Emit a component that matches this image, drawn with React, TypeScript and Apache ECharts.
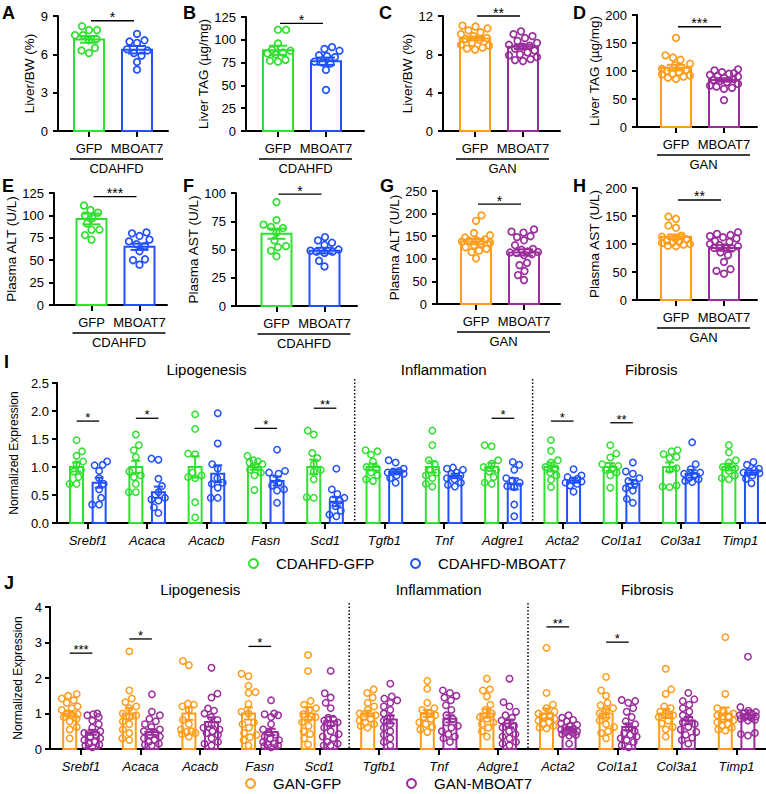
import React, { useEffect, useRef } from "react";
import * as echarts from "echarts";

const FONT = "'Liberation Sans', Arial, Helvetica, sans-serif";
const GREEN = "#2fe02f";
const BLUE = "#2050ff";
const ORANGE = "#ff9c1a";
const PURPLE = "#9a2c9c";

const groupLabels = ["GFP", "MBOAT7"];

// ---- Panel A: Liver/BW (%) CDAHFD
const aGfp = [8.2, 7.9, 7.9, 7.5, 7.5, 7.2, 7.1, 6.5, 6.3, 6.1];
const aMboat7 = [7.6, 7.1, 7.0, 6.9, 6.4, 6.3, 6.1, 5.9, 5.4, 4.8];
const aMean = [7.17, 6.36];
const aSem = [0.26, 0.29];
// ---- Panel B: Liver TAG CDAHFD
const bGfp = [111, 111, 96, 89, 88, 86, 85, 84, 78, 76, 77];
const bMboat7 = [92, 90, 88, 83, 82, 81, 76, 75, 74, 67, 45];
const bMean = [88.5, 76.5];
const bSem = [5, 4];
// ---- Panel C: Liver/BW (%) GAN
const cGfp = [11.0, 10.9, 10.7, 10.5, 10.3, 10.1, 9.9, 9.7, 9.6, 9.5, 9.2, 9.0, 8.9, 8.7, 8.6, 8.5];
const cMboat7 = [10.4, 10.1, 9.9, 9.7, 9.4, 9.2, 9.0, 8.9, 8.8, 8.6, 8.4, 8.2, 8.0, 7.9, 7.7, 7.5, 7.3, 7.4];
const cMean = [9.66, 8.78];
const cSem = [0.2, 0.22];
// ---- Panel D: Liver TAG GAN
const dGfp = [159, 128, 124, 120, 113, 110, 104, 102, 100, 98, 95, 94, 92, 90, 88, 86];
const dMboat7 = [103, 101, 98, 96, 95, 93, 91, 90, 88, 86, 84, 82, 80, 77, 74, 72, 70, 68, 48];
const dMean = [106, 84];
const dSem = [5, 3];
// ---- Panel E: Plasma ALT CDAHFD
const eGfp = [111, 106, 103, 100, 97, 91, 84, 84, 78, 73];
const eMboat7 = [81, 80, 77, 73, 71, 68, 66, 60, 51, 50, 45];
const eMean = [96, 65];
const eSem = [6, 3.5];
// ---- Panel F: Plasma AST CDAHFD
const fGfp = [92, 76, 72, 70, 69, 65, 58, 53, 52, 49, 44];
const fMboat7 = [61, 58, 56, 54, 50, 49, 48, 48, 47, 40, 35];
const fMean = [64, 49];
const fSem = [4.5, 2.5];
// ---- Panel G: Plasma ALT GAN
const gGfp = [196, 184, 157, 152, 147, 143, 141, 140, 138, 136, 133, 130, 126, 122, 118, 115, 101];
const gMboat7 = [165, 160, 158, 150, 148, 141, 130, 122, 120, 116, 115, 114, 113, 110, 108, 91, 86, 73, 64, 53];
const gMean = [138, 114];
const gSem = [6, 7];
// ---- Panel H: Plasma AST GAN
const hGfp = [149, 145, 133, 129, 115, 113, 110, 108, 106, 104, 103, 102, 100, 99, 97, 96];
const hMboat7 = [121, 118, 116, 114, 112, 110, 105, 104, 100, 98, 96, 94, 93, 92, 85, 80, 68, 55, 52, 47];
const hMean = [113, 93];
const hSem = [4, 5];

// ---- Panels I and J: gene expression
const genes = ["Srebf1", "Acaca", "Acacb", "Fasn", "Scd1", "Tgfb1", "Tnf", "Adgre1", "Acta2", "Col1a1", "Col3a1", "Timp1"];
const geneGroups = ["Lipogenesis", "Inflammation", "Fibrosis"];
const geneGroupCenters = [2, 6, 9.5];
const geneGroupSeparators = [4.5, 7.5];

const iGfpMean = [1, 1, 1, 1, 1, 1, 1, 1, 1, 1, 1, 1];
const iGfpSem = [0.08, 0.11, 0.19, 0.05, 0.13, 0.06, 0.1, 0.07, 0.08, 0.07, 0.08, 0.06];
const iMboat7Mean = [0.72, 0.55, 0.88, 0.75, 0.38, 0.91, 0.84, 0.7, 0.76, 0.7, 0.88, 0.9];
const iMboat7Sem = [0.09, 0.1, 0.15, 0.08, 0.08, 0.04, 0.04, 0.1, 0.04, 0.07, 0.07, 0.04];
const iGfpDots = [
  [1.48, 1.28, 1.2, 1.1, 1.05, 0.95, 0.92, 0.82, 0.7, 0.7],
  [1.58, 1.39, 1.3, 1.18, 0.92, 0.85, 0.82, 0.7, 0.55, 0.55],
  [1.94, 1.68, 1.24, 1.23, 0.9, 0.85, 0.82, 0.8, 0.37, 0.1],
  [1.2, 1.12, 1.1, 1.08, 1.05, 1.02, 0.95, 0.9, 0.85, 0.59],
  [1.65, 1.58, 1.25, 1.16, 1.05, 0.95, 0.92, 0.78, 0.46, 0.45],
  [1.3, 1.28, 1.22, 1.1, 1.0, 0.98, 0.9, 0.85, 0.78, 0.75],
  [1.65, 1.39, 1.12, 1.05, 0.95, 0.9, 0.85, 0.8, 0.7, 0.65],
  [1.39, 1.37, 1.12, 1.06, 1.0, 0.95, 0.92, 0.82, 0.72, 0.7],
  [1.48, 1.29, 1.12, 1.08, 1.0, 0.98, 0.9, 0.85, 0.77, 0.64],
  [1.39, 1.24, 1.17, 1.05, 1.02, 0.98, 0.95, 0.9, 0.85, 0.63],
  [1.3, 1.28, 1.23, 1.18, 1.16, 0.98, 0.95, 0.67, 0.65, 0.64],
  [1.39, 1.26, 1.12, 1.08, 1.0, 0.98, 0.93, 0.85, 0.8, 0.78],
];
const iMboat7Dots = [
  [1.1, 1.04, 1.03, 0.93, 0.8, 0.7, 0.6, 0.45, 0.33, 0.33],
  [1.15, 1.13, 0.79, 0.66, 0.55, 0.45, 0.42, 0.4, 0.28, 0.18],
  [1.96, 1.42, 1.05, 0.97, 0.8, 0.72, 0.7, 0.63, 0.45, 0.45],
  [1.31, 0.93, 0.9, 0.88, 0.8, 0.72, 0.67, 0.6, 0.58, 0.36],
  [0.97, 0.6, 0.52, 0.45, 0.42, 0.4, 0.3, 0.22, 0.15, 0.12],
  [1.12, 1.08, 0.97, 0.93, 0.92, 0.9, 0.88, 0.85, 0.8, 0.72],
  [0.99, 0.97, 0.95, 0.9, 0.88, 0.85, 0.8, 0.78, 0.72, 0.68, 0.65],
  [1.09, 1.04, 0.95, 0.8, 0.76, 0.72, 0.66, 0.64, 0.33, 0.12],
  [0.96, 0.85, 0.82, 0.79, 0.76, 0.74, 0.72, 0.7, 0.67, 0.56],
  [1.08, 0.92, 0.88, 0.8, 0.75, 0.7, 0.62, 0.58, 0.43, 0.36],
  [1.44, 1.05, 0.96, 0.9, 0.88, 0.85, 0.8, 0.78, 0.75, 0.73],
  [1.09, 1.04, 0.97, 0.95, 0.92, 0.9, 0.89, 0.85, 0.79, 0.71],
];
const iSigGene = [0, 1, 3, 4, 7, 8, 9];
const iSigY = [1.82, 1.87, 1.69, 2.05, 1.87, 1.82, 1.79];
const iSigStars = ["*", "*", "*", "**", "*", "*", "**"];

const jGfpMean = [1, 1, 1, 1, 1, 1, 1, 1, 1, 1, 1, 1];
const jGfpSem = [0.07, 0.16, 0.18, 0.17, 0.18, 0.08, 0.1, 0.12, 0.14, 0.12, 0.13, 0.17];
const jMboat7Mean = [0.47, 0.48, 0.76, 0.48, 0.78, 0.83, 0.85, 0.72, 0.57, 0.62, 0.8, 0.97];
const jMboat7Sem = [0.07, 0.08, 0.13, 0.09, 0.13, 0.11, 0.1, 0.11, 0.05, 0.1, 0.1, 0.12];
const jGfpDots = [
  [1.55, 1.5, 1.42, 1.37, 1.3, 1.2, 1.15, 1.1, 1.0, 0.98, 0.95, 0.9, 0.85, 0.78, 0.62, 0.55, 0.3],
  [2.75, 1.65, 1.42, 1.32, 1.2, 1.15, 1.0, 0.95, 0.9, 0.78, 0.7, 0.55, 0.45, 0.3, 0.25],
  [2.48, 2.36, 1.28, 1.25, 1.2, 1.1, 0.82, 0.7, 0.55, 0.5, 0.48, 0.45, 0.42, 0.35],
  [2.12, 2.05, 1.78, 1.6, 1.58, 1.27, 1.05, 1.0, 0.75, 0.7, 0.6, 0.45, 0.4, 0.33, 0.25, 0.1],
  [2.65, 2.2, 1.35, 1.25, 1.15, 1.1, 0.98, 0.9, 0.85, 0.75, 0.65, 0.5, 0.42, 0.3, 0.13],
  [1.68, 1.58, 1.45, 1.3, 1.2, 1.1, 1.0, 0.95, 0.9, 0.85, 0.8, 0.75, 0.7, 0.65, 0.6],
  [1.92, 1.7, 1.3, 1.15, 1.1, 1.02, 0.95, 0.9, 0.85, 0.75, 0.7, 0.62, 0.55, 0.48],
  [1.98, 1.68, 1.65, 1.48, 1.25, 1.1, 1.0, 0.9, 0.85, 0.75, 0.7, 0.6, 0.5, 0.35],
  [2.85, 1.58, 1.25, 1.15, 1.05, 1.0, 0.95, 0.9, 0.85, 0.8, 0.75, 0.7, 0.65, 0.6, 0.58],
  [2.03, 1.65, 1.5, 1.3, 1.23, 1.15, 1.1, 1.0, 0.9, 0.8, 0.7, 0.62, 0.5, 0.45, 0.3],
  [2.26, 1.68, 1.55, 1.2, 1.15, 1.05, 1.0, 0.95, 0.9, 0.8, 0.72, 0.62, 0.55, 0.35],
  [3.15, 1.55, 1.15, 1.05, 1.0, 0.95, 0.9, 0.85, 0.8, 0.75, 0.7, 0.65, 0.6, 0.55, 0.52],
];
const jMboat7Dots = [
  [1.0, 0.98, 0.95, 0.9, 0.8, 0.7, 0.6, 0.5, 0.45, 0.4, 0.35, 0.3, 0.25, 0.2, 0.15, 0.12, 0.1, 0.05],
  [1.54, 1.05, 0.95, 0.85, 0.78, 0.7, 0.62, 0.55, 0.5, 0.45, 0.4, 0.35, 0.3, 0.25, 0.2, 0.15, 0.12, 0.1],
  [2.29, 1.56, 1.45, 1.14, 1.08, 1.0, 0.9, 0.82, 0.7, 0.6, 0.55, 0.5, 0.45, 0.4, 0.3, 0.2, 0.15, 0.1],
  [1.37, 1.0, 0.98, 0.95, 0.9, 0.7, 0.55, 0.45, 0.4, 0.35, 0.3, 0.25, 0.2, 0.15, 0.12, 0.1, 0.08, 0.05],
  [2.2, 1.57, 1.45, 1.3, 1.15, 0.88, 0.85, 0.8, 0.75, 0.7, 0.6, 0.5, 0.42, 0.35, 0.3, 0.2, 0.15, 0.1, 0.1],
  [1.84, 1.48, 1.42, 1.37, 1.3, 1.2, 1.1, 1.0, 0.9, 0.8, 0.7, 0.6, 0.5, 0.4, 0.3, 0.2, 0.1],
  [1.65, 1.58, 1.5, 1.45, 1.37, 1.23, 1.1, 0.95, 0.85, 0.75, 0.65, 0.6, 0.5, 0.42, 0.35, 0.3, 0.2],
  [1.98, 1.32, 1.2, 1.05, 0.95, 0.88, 0.8, 0.72, 0.65, 0.6, 0.5, 0.42, 0.35, 0.3, 0.2, 0.15, 0.1],
  [0.95, 0.88, 0.82, 0.78, 0.72, 0.68, 0.65, 0.6, 0.57, 0.55, 0.52, 0.5, 0.48, 0.45, 0.42, 0.4, 0.38, 0.15],
  [1.38, 1.35, 1.3, 1.15, 1.05, 0.9, 0.78, 0.7, 0.6, 0.5, 0.45, 0.4, 0.35, 0.3, 0.25, 0.2, 0.1, 0.05],
  [1.58, 1.4, 1.35, 1.25, 1.15, 1.05, 0.95, 0.85, 0.75, 0.7, 0.62, 0.55, 0.48, 0.4, 0.32, 0.25, 0.15],
  [2.6, 1.18, 1.08, 1.04, 1.0, 0.98, 0.95, 0.93, 0.92, 0.9, 0.88, 0.85, 0.82, 0.8, 0.45, 0.42, 0.38],
];
const jSigGene = [0, 1, 3, 8, 9];
const jSigY = [2.7, 3.1, 2.89, 3.44, 3.01];
const jSigStars = ["***", "*", "*", "**", "*"];

// ---- panel definitions (built from the arrays above)
const smallPanels = [
  { letter: "A", diet: "CDAHFD", yName: "Liver/BW (%)", yMax: 9, yStep: 3, dots: [aGfp, aMboat7], mean: aMean, sem: aSem, stars: "*", sigY: 8.63, colors: [GREEN, BLUE] },
  { letter: "B", diet: "CDAHFD", yName: "Liver TAG (µg/mg)", yMax: 125, yStep: 25, dots: [bGfp, bMboat7], mean: bMean, sem: bSem, stars: "*", sigY: 118, colors: [GREEN, BLUE] },
  { letter: "C", diet: "GAN", yName: "Liver/BW (%)", yMax: 12, yStep: 4, dots: [cGfp, cMboat7], mean: cMean, sem: cSem, stars: "**", sigY: 12, colors: [ORANGE, PURPLE] },
  { letter: "D", diet: "GAN", yName: "Liver TAG (µg/mg)", yMax: 200, yStep: 50, dots: [dGfp, dMboat7], mean: dMean, sem: dSem, stars: "***", sigY: 179, colors: [ORANGE, PURPLE] },
  { letter: "E", diet: "CDAHFD", yName: "Plasma ALT (U/L)", yMax: 125, yStep: 25, dots: [eGfp, eMboat7], mean: eMean, sem: eSem, stars: "***", sigY: 121, colors: [GREEN, BLUE] },
  { letter: "F", diet: "CDAHFD", yName: "Plasma AST (U/L)", yMax: 100, yStep: 25, dots: [fGfp, fMboat7], mean: fMean, sem: fSem, stars: "*", sigY: 99, colors: [GREEN, BLUE] },
  { letter: "G", diet: "GAN", yName: "Plasma ALT (U/L)", yMax: 250, yStep: 50, dots: [gGfp, gMboat7], mean: gMean, sem: gSem, stars: "*", sigY: 221, colors: [ORANGE, PURPLE] },
  { letter: "H", diet: "GAN", yName: "Plasma AST (U/L)", yMax: 200, yStep: 50, dots: [hGfp, hMboat7], mean: hMean, sem: hSem, stars: "**", sigY: 178.6, colors: [ORANGE, PURPLE] },
];

const smallLayout = [
  { axisX: 58, c0: 89, endX: 168, top: 16, zero: 131, nameGap: 22, lx: 2, ly: 4 },
  { axisX: 246, c0: 278, endX: 364, top: 17, zero: 131, nameGap: 35, lx: 183, ly: 4 },
  { axisX: 443, c0: 475, endX: 560, top: 16, zero: 131, nameGap: 28, lx: 379, ly: 4 },
  { axisX: 637, c0: 676, endX: 757, top: 15, zero: 127, nameGap: 31, lx: 573, ly: 4 },
  { axisX: 54, c0: 91.5, endX: 167, top: 193, zero: 305, nameGap: 32, lx: 2, ly: 177 },
  { axisX: 236, c0: 276.5, endX: 357, top: 193, zero: 306, nameGap: 30, lx: 183, ly: 177 },
  { axisX: 437, c0: 476, endX: 560, top: 191, zero: 304, nameGap: 31, lx: 380, ly: 177 },
  { axisX: 637, c0: 676, endX: 757, top: 188, zero: 300, nameGap: 32, lx: 573, ly: 177 },
];

const bigPanels = [
  { letter: "I", yMax: 2.5, yStep: 0.5, decimals: 1, names: ["CDAHFD-GFP", "CDAHFD-MBOAT7"], colors: [GREEN, BLUE], means: [iGfpMean, iMboat7Mean], sems: [iGfpSem, iMboat7Sem], dots: [iGfpDots, iMboat7Dots], sigGene: iSigGene, sigY: iSigY, sigStars: iSigStars },
  { letter: "J", yMax: 4, yStep: 1, decimals: 0, names: ["GAN-GFP", "GAN-MBOAT7"], colors: [ORANGE, PURPLE], means: [jGfpMean, jMboat7Mean], sems: [jGfpSem, jMboat7Sem], dots: [jGfpDots, jMboat7Dots], sigGene: jSigGene, sigY: jSigY, sigStars: jSigStars },
];

const bigLayout = [
  { axisX: 54, c0: 85, sp: 59.55, endX: 766, top: 383, zero: 523, nameGap: 30, titleDy: -14, legendTop: 556, legendLeft: [248, 410], lx: 4, ly: 353 },
  { axisX: 50, c0: 81, sp: 59.6, endX: 766, top: 607, zero: 749, nameGap: 16, titleDy: -18, legendTop: 776, legendLeft: [245, 406], lx: 4, ly: 574 },
];

// ---- helpers
function swarm(ys: number[], d: number, maxOff: number): number[] {
  const idx = ys.map((_, i) => i).sort((a, b) => ys[b] - ys[a]);
  const placed: Array<[number, number]> = [];
  const offs = ys.map(() => 0);
  idx.forEach((i, n) => {
    const sign = n % 2 === 0 ? 1 : -1;
    let best = 0;
    let bestScore = -1;
    let done = false;
    for (let k = 0; k <= maxOff && !done; k += 0.5) {
      const cands = k === 0 ? [0] : [sign * k, -sign * k];
      for (const s of cands) {
        let minD = Infinity;
        for (const [px, py] of placed) {
          const dd = Math.hypot(px - s, py - ys[i]);
          if (dd < minD) minD = dd;
        }
        if (minD >= d) {
          best = s;
          done = true;
          break;
        }
        if (minD > bestScore) {
          bestScore = minD;
          best = s;
        }
      }
    }
    offs[i] = best;
    placed.push([best, ys[i]]);
  });
  return offs;
}

type BarStyle = { bw: number; lw: number; cap: number; r: number; dlw: number; d: number; maxOff: number };

function barRenderer(dotSets: number[][], colorOf: (i: number) => string, shiftPx: number, st: BarStyle) {
  return (params: any, api: any) => {
    const i = params.dataIndex;
    const xv = api.value(0);
    const mean = api.value(1);
    const sem = api.value(2);
    const color = colorOf(i);
    const base = api.coord([xv, 0]);
    const cx = base[0] + shiftPx;
    const y0 = base[1];
    const yTop = api.coord([xv, mean])[1];
    const yHi = api.coord([xv, mean + sem])[1];
    const yLo = api.coord([xv, Math.max(0, mean - sem)])[1];
    const ls = { stroke: color, lineWidth: st.lw };
    const children: any[] = [
      { type: "rect", shape: { x: cx - st.bw / 2, y: yTop, width: st.bw, height: y0 - yTop }, style: { fill: "none", stroke: color, lineWidth: st.lw } },
      { type: "line", shape: { x1: cx, y1: yLo, x2: cx, y2: yHi }, style: ls },
      { type: "line", shape: { x1: cx - st.cap / 2, y1: yHi, x2: cx + st.cap / 2, y2: yHi }, style: ls },
      { type: "line", shape: { x1: cx - st.cap / 2, y1: yLo, x2: cx + st.cap / 2, y2: yLo }, style: ls },
    ];
    const ys = dotSets[i].map((v) => api.coord([xv, v])[1]);
    const offs = swarm(ys, st.d, st.maxOff);
    ys.forEach((y, j) => {
      children.push({ type: "circle", shape: { cx: cx + offs[j], cy: y, r: st.r }, style: { fill: "none", stroke: color, lineWidth: st.dlw } });
    });
    return { type: "group", children };
  };
}

function sigRenderer(stars: string[], dx0: number, dx1: number, fontSize: number) {
  return (params: any, api: any) => {
    const x0 = api.value(0);
    const x1 = api.value(1);
    const y = api.value(2);
    const p0 = api.coord([x0, y]);
    const p1 = api.coord([x1, y]);
    const a = p0[0] + dx0;
    const b = p1[0] + dx1;
    return {
      type: "group",
      children: [
        { type: "line", shape: { x1: a, y1: p0[1], x2: b, y2: p0[1] }, style: { stroke: "#000", lineWidth: 1.3 } },
        { type: "text", x: (a + b) / 2, y: p0[1] - 3.5, style: { text: stars[params.dataIndex], fill: "#000", fontSize, fontFamily: FONT, align: "center", verticalAlign: "middle" } },
      ],
    };
  };
}

function dietRenderer(diet: string) {
  return (_params: any, api: any) => {
    const p0 = api.coord([0, 0]);
    const p1 = api.coord([1, 0]);
    const a = p0[0] - 19;
    const b = p1[0] + 26;
    return {
      type: "group",
      children: [
        { type: "line", shape: { x1: a, y1: p0[1] + 28, x2: b, y2: p0[1] + 28 }, style: { stroke: "#000", lineWidth: 1.5 } },
        { type: "text", x: (a + b) / 2, y: p0[1] + 37.5, style: { text: diet, fill: "#000", fontSize: 13, fontFamily: FONT, align: "center", verticalAlign: "middle" } },
      ],
    };
  };
}

function buildOption() {
  const grids: any[] = [];
  const xAxes: any[] = [];
  const yAxes: any[] = [];
  const series: any[] = [];
  const graphics: any[] = [];
  const legends: any[] = [];

  const axisLineStyle = { color: "#000", width: 2 };

  smallPanels.forEach((p, k) => {
    const L = smallLayout[k];
    const sp = 48;
    grids.push({ left: L.axisX, top: L.top, width: L.endX - L.axisX, height: L.zero - L.top });
    xAxes.push({
      gridIndex: k,
      type: "value",
      min: -(L.c0 - L.axisX) / sp,
      max: (L.endX - L.c0) / sp,
      axisLine: { show: true, onZero: false, lineStyle: axisLineStyle },
      axisTick: { show: true, length: 6, lineStyle: axisLineStyle, customValues: [0, 1] },
      axisLabel: { customValues: [0, 1], formatter: (v: number) => groupLabels[Math.round(v)], fontSize: 13, color: "#000", margin: 11, fontFamily: FONT },
      splitLine: { show: false },
    });
    yAxes.push({
      gridIndex: k,
      type: "value",
      min: 0,
      max: p.yMax,
      interval: p.yStep,
      name: p.yName,
      nameLocation: "middle",
      nameGap: L.nameGap,
      nameRotate: 90,
      nameTextStyle: { fontSize: 13.5, color: "#000", fontFamily: FONT },
      axisLine: { show: true, onZero: false, lineStyle: axisLineStyle },
      axisTick: { show: true, length: 5, lineStyle: axisLineStyle },
      axisLabel: { fontSize: 13, color: "#000", margin: 10, fontFamily: FONT },
      splitLine: { show: false },
    });
    series.push({
      type: "custom",
      name: "panel" + p.letter,
      xAxisIndex: k,
      yAxisIndex: k,
      data: p.mean.map((m, i) => [i, m, p.sem[i]]),
      renderItem: barRenderer(p.dots, (i) => p.colors[i], 0, { bw: 30, lw: 2, cap: 18, r: 3.3, dlw: 1.7, d: 7.6, maxOff: 14 }),
      z: 3,
    });
    series.push({
      type: "custom",
      name: "sig" + p.letter,
      xAxisIndex: k,
      yAxisIndex: k,
      data: [[0, 1, p.sigY]],
      renderItem: sigRenderer([p.stars], 2, -3, 14),
      z: 3,
    });
    series.push({
      type: "custom",
      name: "diet" + p.letter,
      xAxisIndex: k,
      yAxisIndex: k,
      data: [[0, 0]],
      renderItem: dietRenderer(p.diet),
      z: 3,
    });
    graphics.push({ type: "text", x: L.lx, y: L.ly, style: { text: p.letter, fontSize: 18, fontWeight: "bold", fontFamily: FONT, fill: "#000", align: "left", verticalAlign: "top" } });
  });

  bigPanels.forEach((p, b) => {
    const k = smallPanels.length + b;
    const L = bigLayout[b];
    grids.push({ left: L.axisX, top: L.top, width: L.endX - L.axisX, height: L.zero - L.top });
    const idxs = genes.map((_, i) => i);
    xAxes.push({
      gridIndex: k,
      type: "value",
      min: -(L.c0 - L.axisX) / L.sp,
      max: (L.endX - L.c0) / L.sp,
      axisLine: { show: true, onZero: false, lineStyle: axisLineStyle },
      axisTick: { show: true, length: 6, lineStyle: axisLineStyle, customValues: idxs },
      axisLabel: { customValues: idxs, formatter: (v: number) => genes[Math.round(v)], fontSize: 13, fontStyle: "italic", color: "#000", margin: 11, fontFamily: FONT },
      splitLine: { show: false },
    });
    yAxes.push({
      gridIndex: k,
      type: "value",
      min: 0,
      max: p.yMax,
      interval: p.yStep,
      name: "Normalized Expression",
      nameLocation: "middle",
      nameGap: L.nameGap,
      nameRotate: 90,
      nameTextStyle: { fontSize: 12, color: "#000", fontFamily: FONT },
      axisLine: { show: true, onZero: false, lineStyle: axisLineStyle },
      axisTick: { show: true, length: 5, lineStyle: axisLineStyle },
      axisLabel: { fontSize: 13, color: "#000", margin: 8, fontFamily: FONT, formatter: (v: number) => v.toFixed(p.decimals) },
      splitLine: { show: false },
    });
    [0, 1].forEach((g) => {
      series.push({
        type: "custom",
        name: p.names[g],
        xAxisIndex: k,
        yAxisIndex: k,
        itemStyle: { color: p.colors[g] },
        data: genes.map((_, i) => [i, p.means[g][i], p.sems[g][i]]),
        renderItem: barRenderer(p.dots[g], () => p.colors[g], g === 0 ? -11.3 : 11.3, { bw: 13, lw: 2, cap: 9, r: 3.2, dlw: 1.5, d: 7, maxOff: 8 }),
        z: 3,
      });
      legends.push({
        data: [{ name: p.names[g], icon: "circle", itemStyle: { color: "#fff", borderColor: p.colors[g], borderWidth: 2 } }],
        left: L.legendLeft[g],
        top: L.legendTop,
        padding: 0,
        itemWidth: 9,
        itemHeight: 9,
        selectedMode: false,
        textStyle: { fontSize: 15, color: "#000", fontFamily: FONT, padding: [0, 0, 0, 13] },
      });
    });
    series.push({
      type: "custom",
      name: "sig" + p.letter,
      xAxisIndex: k,
      yAxisIndex: k,
      data: p.sigGene.map((gi, i) => [gi, gi, p.sigY[i]]),
      renderItem: sigRenderer(p.sigStars, -11.3, 11.3, 13),
      z: 3,
    });
    series.push({
      type: "custom",
      name: "sep" + p.letter,
      xAxisIndex: k,
      yAxisIndex: k,
      data: geneGroupSeparators.map((x) => [x, p.yMax]),
      renderItem: (_params: any, api: any) => {
        const top = api.coord([api.value(0), api.value(1)]);
        const bot = api.coord([api.value(0), 0]);
        return { type: "line", shape: { x1: top[0], y1: top[1] - 4, x2: bot[0], y2: bot[1] }, style: { stroke: "#000", lineWidth: 1.5, lineDash: [1.5, 2] } };
      },
      z: 2,
    });
    series.push({
      type: "custom",
      name: "groups" + p.letter,
      xAxisIndex: k,
      yAxisIndex: k,
      data: geneGroupCenters.map((x) => [x, p.yMax]),
      renderItem: (params: any, api: any) => {
        const pt = api.coord([api.value(0), api.value(1)]);
        return { type: "text", x: pt[0], y: pt[1] + L.titleDy, style: { text: geneGroups[params.dataIndex], fill: "#000", fontSize: 15, fontFamily: FONT, align: "center", verticalAlign: "middle" } };
      },
      z: 3,
    });
    graphics.push({ type: "text", x: L.lx, y: L.ly, style: { text: p.letter, fontSize: 18, fontWeight: "bold", fontFamily: FONT, fill: "#000", align: "left", verticalAlign: "top" } });
  });

  return {
    animation: false,
    backgroundColor: "#fff",
    textStyle: { fontFamily: FONT },
    grid: grids,
    xAxis: xAxes,
    yAxis: yAxes,
    legend: legends,
    series,
    graphic: graphics,
  };
}

export default function App() {
  const ref = useRef<HTMLDivElement>(null);
  useEffect(() => {
    if (!ref.current) return;
    const chart = echarts.init(ref.current, undefined, { renderer: "svg" });
    chart.setOption(buildOption() as any);
    return () => {
      chart.dispose();
    };
  }, []);
  return <div ref={ref} style={{ position: "absolute", left: 0, top: 0, width: 766, height: 794 }} />;
}
